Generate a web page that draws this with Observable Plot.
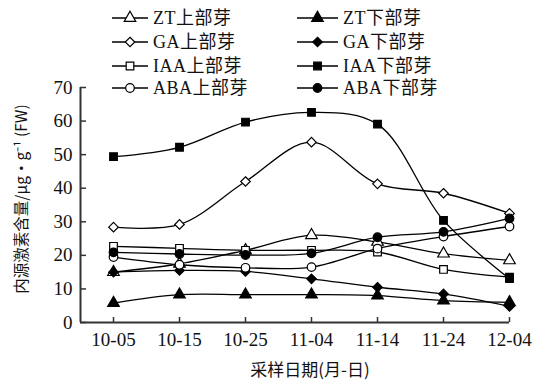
<!DOCTYPE html>
<html><head><meta charset="utf-8">
<script src="https://cdn.jsdelivr.net/npm/d3@7"></script>
<script src="https://cdn.jsdelivr.net/npm/@observablehq/plot@0.6"></script>
<style>
html,body{margin:0;padding:0;background:#fff;}
#wrap{position:relative;width:539px;height:386px;overflow:hidden;background:#fff;}
#legend{position:absolute;left:0;top:0;width:539px;height:100px;pointer-events:none;}
.item{position:absolute;display:flex;align-items:center;font-family:"Liberation Serif","Noto Sans CJK SC",serif;font-size:18px;letter-spacing:0.5px;color:#111;white-space:nowrap;line-height:1;}
.item svg{margin-right:5px;}
</style></head><body><div id="wrap"><div id="chart"></div><div id="legend"></div></div>
<script>
// ---- data ----
const dates = ["10-05","10-15","10-25","11-04","11-14","11-24","12-04"];
const seriesNames = ["ZT上部芽","ZT下部芽","GA上部芽","GA下部芽","IAA上部芽","IAA下部芽","ABA上部芽","ABA下部芽"];
const ztUpper  = [15, 17.5, 21.5, 26, 24, 20.5, 18.5];
const ztLower  = [5.8, 8.3, 8.3, 8.3, 8, 6.5, 6];
const gaUpper  = [28.4, 29.2, 42, 53.7, 41.3, 38.5, 32.5];
const gaLower  = [15, 15.5, 15.2, 13, 10.5, 8.5, 4.8];
const iaaUpper = [22.7, 22.1, 21.5, 21.5, 21, 15.8, 13.5];
const iaaLower = [49.4, 52.2, 59.7, 62.6, 59.1, 30.4, 13.1];
const abaUpper = [19.5, 17.2, 16.3, 16.5, 22, 25.6, 28.6];
const abaLower = [20.9, 20.4, 20.1, 20.6, 25.4, 27, 31];
const yTicks = [0, 10, 20, 30, 40, 50, 60, 70];
const yLabel = "内源激素含量/μg·g⁻¹ (FW)";
const xLabel = "采样日期(月-日)";

// ---- styles ----
const seriesValues = [ztUpper, ztLower, gaUpper, gaLower, iaaUpper, iaaLower, abaUpper, abaLower];
const symbolNames = ["triangle","triangle","diamond2","diamond2","square","square","circle","circle"];
const fillColors = ["white","black","white","black","white","black","white","black"];

const rows = [];
seriesNames.forEach((s, i) => seriesValues[i].forEach((v, j) => rows.push({series: s, xi: j, v, sym: symbolNames[i], fill: fillColors[i]})));

const chart = Plot.plot({
  width: 539, height: 386,
  marginLeft: 80, marginRight: 30, marginTop: 87, marginBottom: 64,
  x: {domain: [-0.5, 6], axis: null},
  y: {domain: [0, 70], axis: null},
  symbol: {type: "identity"},
  style: {fontFamily: "Liberation Serif, serif", color: "#111", background: "white"},
  marks: [
    Plot.axisY({ticks: yTicks, tickSize: -6, tickPadding: 14, fontSize: 19, stroke: "#333", strokeWidth: 1.5, label: null}),
    Plot.axisX({ticks: d3.range(dates.length), tickFormat: i => dates[i], tickSize: -5, tickPadding: 15, fontSize: 19, stroke: "#333", strokeWidth: 1.5, label: null}),
    Plot.ruleY([0], {stroke: "#333", strokeWidth: 2}),
    Plot.ruleX([-0.5], {y1: 0, y2: 70, stroke: "#333", strokeWidth: 2}),
    Plot.line(rows, {x: "xi", y: "v", z: "series", curve: "catmull-rom", stroke: "black", strokeWidth: 1.3}),
    Plot.dot(rows, {x: "xi", y: "v", symbol: "sym", fill: "fill", stroke: "black", strokeWidth: 1.2, r: 4.3}),
    Plot.text([yLabel], {frameAnchor: "left", textAnchor: "middle", rotate: -90, dx: -58, dy: -6, fontSize: 15.5, fontFamily: "Noto Sans CJK SC", fill: "#111"}),
    Plot.text([xLabel], {frameAnchor: "bottom", dx: 15, dy: 53, fontSize: 17, fontFamily: "Noto Sans CJK SC", fill: "#111"})
  ]
});
document.getElementById("chart").appendChild(chart);

// ---- legend ----
const legend = document.getElementById("legend");
const rowY = [18, 42, 66, 88];
const colX = [112, 297];
seriesNames.forEach((s, i) => {
  const col = i % 2, row = Math.floor(i / 2);
  const div = document.createElement("div");
  div.className = "item";
  div.style.left = colX[col] + "px";
  div.style.top = (rowY[row] - 9) + "px";
  div.style.height = "18px";
  const w = col === 0 ? 36 : 41;
  const symType = {triangle: d3.symbolTriangle, diamond2: d3.symbolDiamond2, square: d3.symbolSquare, circle: d3.symbolCircle}[symbolNames[i]];
  const path = d3.symbol(symType, Math.PI * 4.3 * 4.3)();
  div.innerHTML = `<svg width="${w}" height="18"><line x1="0" x2="${w}" y1="9" y2="9" stroke="black" stroke-width="1.3"/><path d="${path}" transform="translate(${w/2},9)" fill="${fillColors[i]}" stroke="black" stroke-width="1.2"/></svg><span>${s}</span>`;
  legend.appendChild(div);
});
</script></body></html>
